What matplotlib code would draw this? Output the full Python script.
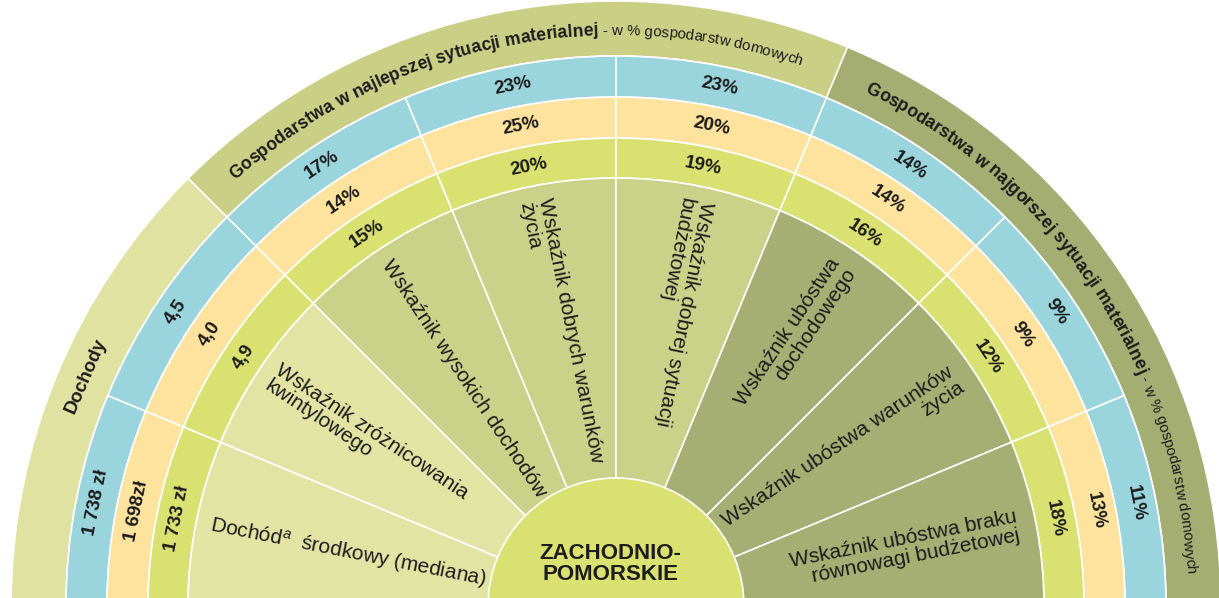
import numpy as np
import matplotlib
matplotlib.use('Agg')
import matplotlib.pyplot as plt
from matplotlib.patches import Wedge, Circle
from matplotlib.font_manager import FontProperties, findfont, get_font

plt.rcParams['font.family'] = ['Liberation Sans', 'DejaVu Sans']
plt.rcParams['mathtext.fontset'] = 'custom'
plt.rcParams['mathtext.rm'] = 'Liberation Sans'
plt.rcParams['mathtext.it'] = 'Liberation Sans:italic'

# data, sectors from left (180 deg) to right (0 deg)
sector_labels = [
    'Dochód$^{a}$  środkowy (mediana)',
    'Wskaźnik zróżnicowania\nkwintylowego',
    'Wskaźnik wysokich dochodów',
    'Wskaźnik dobrych warunków\nżycia',
    'Wskaźnik dobrej sytuacji\nbudżetowej',
    'Wskaźnik ubóstwa\ndochodowego',
    'Wskaźnik ubóstwa warunków\nżycia',
    'Wskaźnik ubóstwa braku\nrównowagi budżetowej',
]
sector_group = [0, 0, 1, 1, 1, 2, 2, 2]
blue_vals = ['1 738 zł', '4,5', '17%', '23%', '23%', '14%', '9%', '11%']
orange_vals = ['1 698zł', '4,0', '14%', '25%', '20%', '14%', '9%', '13%']
green_vals = ['1 733 zł', '4,9', '15%', '20%', '19%', '16%', '12%', '18%']
group_titles = ['Dochody',
                'Gospodarstwa w najlepszej sytuacji materialnej',
                'Gospodarstwa w najgorszej sytuacji materialnej']
group_note = ' - w % gospodarstw domowych'
region = 'ZACHODNIO-\nPOMORSKIE'

# colours
inner_colors = ['#e2e4a4', '#cad188', '#a5ae73']
band_colors = ['#e0e2a1', '#c9d086', '#a4ad72']
ring_colors = ['#9ad5de', '#fee39f', '#d9e270']
txt = '#1c1c1c'

# radii (px)
r_center = 128
r_green = 428
r_orange = 468
r_blue = 509
r_band = 550
r_out = 605

fig = plt.figure(figsize=(12.19, 5.98), dpi=100)
ax = fig.add_axes([0, 0, 1, 1])
ax.set_xlim(-616, 603)
ax.set_ylim(8, 606)
ax.axis('off')

step = 180 / len(sector_labels)

# outer band
band_span = [(135, 180), (67.5, 135), (0, 67.5)]
for (t1, t2), c in zip(band_span, band_colors):
    ax.add_patch(Wedge((0, 0), r_out, t1, t2, width=r_out - r_band,
                       facecolor=c, edgecolor='white', lw=1.2))

# rings + inner sectors
for i in range(len(sector_labels)):
    t2 = 180 - step * i
    t1 = t2 - step
    ax.add_patch(Wedge((0, 0), r_band, t1, t2, width=r_band - r_blue,
                       facecolor=ring_colors[0], edgecolor='white', lw=1.2))
    ax.add_patch(Wedge((0, 0), r_blue, t1, t2, width=r_blue - r_orange,
                       facecolor=ring_colors[1], edgecolor='white', lw=1.2))
    ax.add_patch(Wedge((0, 0), r_orange, t1, t2, width=r_orange - r_green,
                       facecolor=ring_colors[2], edgecolor='white', lw=1.2))
    ax.add_patch(Wedge((0, 0), r_green, t1, t2,
                       facecolor=inner_colors[sector_group[i]], edgecolor='white', lw=1.2))

ax.add_patch(Circle((0, 0), r_center, facecolor=ring_colors[2], edgecolor='white', lw=1.2))

# ring values
for i in range(len(sector_labels)):
    a = 180 - step * (i + 0.5)
    rad = np.radians(a)
    for vals, rr in [(blue_vals, 530), (orange_vals, 489), (green_vals, 448)]:
        ax.text(rr * np.cos(rad), rr * np.sin(rad), vals[i], rotation=a - 90,
                rotation_mode='anchor', ha='center', va='center',
                fontsize=13.5, fontweight='bold', color=txt)

# sector names
for i, lab in enumerate(sector_labels):
    a = 180 - step * (i + 0.5)
    rad = np.radians(a)
    if i <= 4:
        rr = 414
        ax.text(rr * np.cos(rad), rr * np.sin(rad), lab, rotation=a - 180,
                rotation_mode='anchor', ha='left', va='center', multialignment='left',
                fontsize=15, color=txt, linespacing=1.0)
    else:
        rr = 410
        ax.text(rr * np.cos(rad), rr * np.sin(rad), lab, rotation=a,
                rotation_mode='anchor', ha='right', va='center', multialignment='right',
                fontsize=15, color=txt, linespacing=1.0)

ax.text(-6, 42, region, ha='center', va='center', fontsize=16, fontweight='bold',
        color=txt, linespacing=1.05)


def arc_text(s, r, start, size, weight):
    # place characters one by one along an arc, clockwise
    font = get_font(findfont(FontProperties(family='Liberation Sans', weight=weight)))
    font.set_size(size, 100)
    ang = np.radians(start)
    for ch in s:
        adv = font.load_char(ord(ch)).linearHoriAdvance / 65536
        mid = ang - adv / 2 / r
        if ch != ' ':
            ax.text(r * np.cos(mid), r * np.sin(mid), ch, rotation=np.degrees(mid) - 90,
                    rotation_mode='anchor', ha='center', va='baseline',
                    fontsize=size, fontweight=weight, color=txt)
        ang -= adv / r
    return np.degrees(ang)


end = arc_text(group_titles[1], 571, 131.8, 12.7, 'bold')
arc_text(group_note, 571, end, 10.8, 'normal')
end = arc_text(group_titles[2], 571, 64.2, 12.7, 'bold')
arc_text(group_note, 571, end, 10.8, 'normal')

a = np.radians(156.5)
ax.text(578 * np.cos(a), 578 * np.sin(a), group_titles[0], rotation=66.5,
        rotation_mode='anchor', ha='center', va='center', fontsize=13.5,
        fontweight='bold', color=txt)

fig.savefig('out.png', dpi=100)
